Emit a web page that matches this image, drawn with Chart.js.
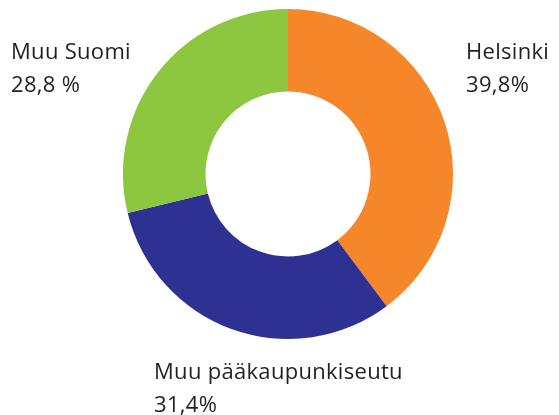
<!DOCTYPE html>
<html>
<head>
<meta charset="utf-8">
<script src="https://cdn.jsdelivr.net/npm/chart.js@4/dist/chart.umd.min.js"></script>
<style>
    html, body { margin: 0; padding: 0; background: #fff; }
    .wrap { position: relative; width: 559px; height: 415px; }
    .lbl {
        position: absolute;
        font-family: 'Open Sans', sans-serif;
        font-size: 22px;
        letter-spacing: 0.3px;
        line-height: 33px;
        color: #231f20;
        white-space: nowrap;
    }
</style>
</head>
<body>
<div class="wrap">
    <canvas id="pieChart" width="559" height="415"></canvas>
    <div class="lbl" id="lbl0" style="left:466px; top:34px;"></div>
    <div class="lbl" id="lbl1" style="left:154px; top:354px;"></div>
    <div class="lbl" id="lbl2" style="left:11px; top:34px;"></div>
</div>
<script>
// Data
const categories = ['Helsinki', 'Muu pääkaupunkiseutu', 'Muu Suomi'];
const shares = [39.8, 31.4, 28.8];
const shareLabels = ['39,8%', '31,4%', '28,8 %'];
const sliceColors = ['#f5862a', '#2e3192', '#8dc63f'];

// Labels as real text
categories.forEach((name, i) => {
    const el = document.getElementById('lbl' + i);
    el.innerHTML = name + '<br>' + shareLabels[i];
});

const ctx = document.getElementById('pieChart').getContext('2d');
const pieChart = new Chart(ctx, {
    type: 'doughnut',
    data: {
        labels: categories,
        datasets: [{
            data: shares,
            backgroundColor: sliceColors,
            borderWidth: 0,
            hoverOffset: 0
        }]
    },
    options: {
        responsive: false,
        animation: false,
        cutout: '50%',
        layout: {
            padding: { left: 123, right: 106, top: 9, bottom: 76 }
        },
        plugins: {
            legend: { display: false },
            tooltip: { enabled: false }
        }
    }
});
</script>
</body>
</html>
